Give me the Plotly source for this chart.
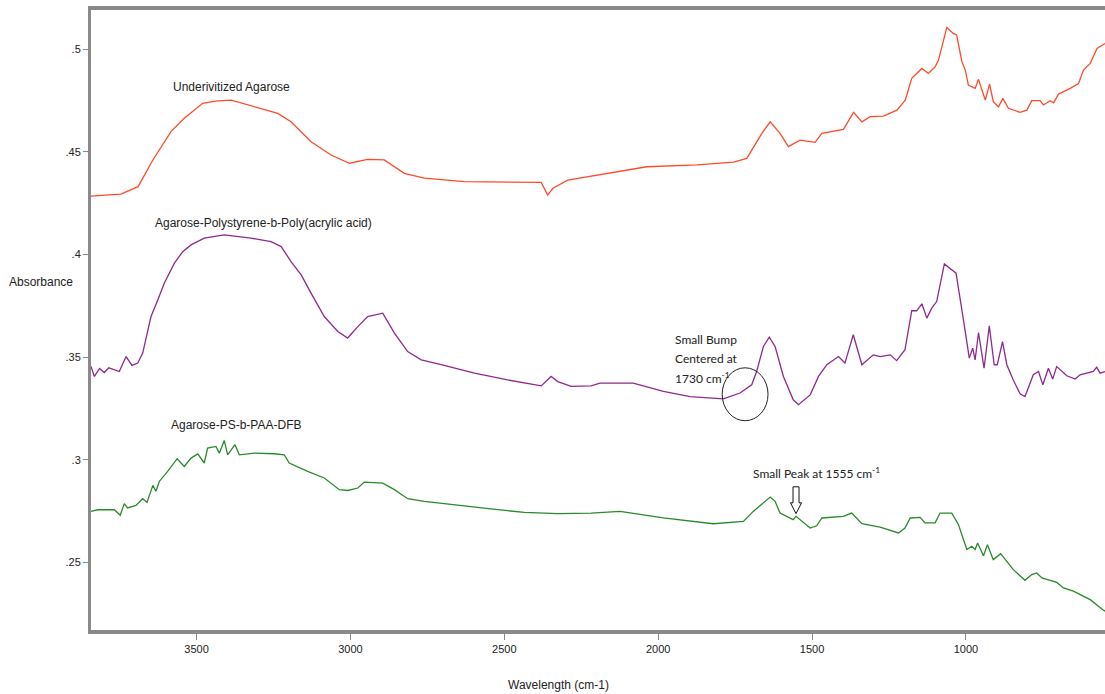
import plotly.graph_objects as go

# ---- Data (wavenumber cm-1, absorbance) ----
agarose_wn = [3843, 3800, 3746, 3690, 3642, 3583, 3540, 3480, 3440, 3388, 3334, 3290, 3236, 3193, 3128, 3063, 3003,
              2944, 2890, 2825, 2760, 2630, 2380, 2359, 2342, 2294, 2218, 2037, 1874, 1755, 1712,
              1663, 1636, 1604, 1577, 1539, 1490, 1468, 1398, 1365, 1338, 1311, 1268, 1224, 1197,
              1176, 1165, 1143, 1122, 1100, 1089, 1062, 1041, 1030, 1013, 1002, 992, 970, 959,
              937, 923, 911, 894, 880, 862, 824, 802, 786, 759, 748, 726, 715, 699, 661, 634,
              618, 596, 574, 548]
agarose_abs = [.4285, .4288, .4295, .4331, .4461, .4599, .4664, .4737, .4748, .4753, .4729, .4712, .4688, .4647, .4550, .4485, .4445,
               .4464, .4461, .4396, .4372, .4355, .4352, .4290, .4323, .4363, .4383, .4428, .4437, .4450, .4469,
               .4591, .4647, .4591, .4526, .4558, .4547, .4591, .4610, .4693, .4647, .4672, .4675, .4704, .4753,
               .4859, .4875, .4907, .4883, .4915, .4948, .5107, .5078, .5070, .4940, .4899, .4826, .4810, .4854,
               .4753, .4831, .4745, .4720, .4761, .4713, .4693, .4704, .4750, .4750, .4729, .4750, .4740, .4782,
               .4810, .4834, .4899, .4932, .5005, .5029]

paa_wn = [3843, 3832, 3815, 3800, 3785, 3751, 3729, 3710, 3691, 3675, 3664, 3648, 3626, 3605, 3572, 3545, 3518, 3475,
          3410, 3323, 3258, 3225, 3193, 3160, 3128, 3085, 3041, 3009, 2976, 2944, 2895, 2857, 2814,
          2770, 2705, 2597, 2489, 2380, 2348, 2326, 2283, 2218, 2189, 2081, 1983, 1896, 1788, 1734,
          1696, 1680, 1658, 1639, 1620, 1593, 1561, 1544, 1506, 1479, 1452, 1414, 1393, 1366, 1338,
          1301, 1279, 1246, 1225, 1198, 1176, 1160, 1143, 1127, 1111, 1095, 1070, 1046, 1032, 1008,
          989, 978, 970, 959, 941, 924, 908, 898, 881, 867, 846, 824, 808, 781, 764, 750, 732, 718,
          705, 672, 645, 629, 586, 575, 564, 548]
paa_abs = [.3454, .3406, .3445, .3425, .3448, .3430, .3503, .3460, .3471, .3520, .3593, .3698, .3779, .3860, .3958, .4014, .4047, .4080,
           .4096, .4080, .4063, .4039, .3966, .3901, .3812, .3698, .3625, .3593, .3649, .3698, .3714, .3617, .3527,
           .3487, .3463, .3422, .3389, .3360, .3406, .3381, .3357, .3360, .3373, .3373, .3333, .3308, .3297, .3325,
           .3365, .3430, .3552, .3597, .3552, .3406, .3292, .3268, .3316, .3406, .3463, .3503, .3471, .3609, .3463,
           .3511, .3503, .3511, .3483, .3536, .3727, .3726, .3760, .3690, .3739, .3771, .3954, .3925, .3909, .3682,
           .3495, .3544, .3487, .3620, .3446, .3652, .3463, .3463, .3576, .3463, .3389, .3321, .3308, .3414, .3430, .3365, .3446, .3393,
           .3454, .3409, .3393, .3414, .3430, .3451, .3422, .3430]

dfb_wn = [3843, 3821, 3767, 3748, 3735, 3724, 3697, 3675, 3661, 3642, 3632, 3621, 3594, 3563, 3540,
          3518, 3496, 3475, 3464, 3437, 3426, 3410, 3399, 3375, 3361, 3312, 3247, 3215, 3199, 3139,
          3085, 3036, 3009, 2976, 2955, 2895, 2857, 2814, 2760, 2651, 2544, 2435, 2326, 2218, 2124,
          1983, 1821, 1723, 1691, 1636, 1620, 1604, 1561, 1552, 1506, 1485, 1468, 1398, 1371, 1338,
          1279, 1219, 1198, 1181, 1149, 1133, 1100, 1084, 1046, 1024, 997, 981, 970, 962, 943, 930,
          911, 887, 846, 808, 786, 770, 753, 705, 683, 651, 596, 555, 548]
dfb_abs = [.2748, .2756, .2756, .2729, .2786, .2765, .2777, .2810, .2792, .2875, .2846, .2894, .2943, .3005, .2967,
           .3008, .3028, .2984, .3057, .3065, .3032, .3094, .3024, .3073, .3024, .3032, .3029, .3024, .2984, .2943,
           .2911, .2854, .2850, .2862, .2891, .2886, .2854, .2810, .2797, .2777, .2760, .2743, .2737, .2740, .2748,
           .2716, .2688, .2699, .2748, .2818, .2797, .2740, .2708, .2724, .2667, .2678, .2716, .2724, .2740, .2688,
           .2672, .2643, .2667, .2716, .2719, .2692, .2692, .2740, .2740, .2683, .2562, .2578, .2562, .2594, .2532, .2586,
           .2513, .2542, .2464, .2412, .2440, .2448, .2424, .2402, .2375, .2359, .2318, .2269, .2262]

series_names = ["Underivitized Agarose", "Agarose-Polystyrene-b-Poly(acrylic acid)", "Agarose-PS-b-PAA-DFB"]
y_tick_vals = [.25, .3, .35, .4, .45, .5]
y_tick_text = [".25", ".3", ".35", ".4", ".45", ".5"]
x_tick_vals = [3500, 3000, 2500, 2000, 1500, 1000]

FONT = "Liberation Sans, Arial, sans-serif"
CAL = "Lato, Open Sans, sans-serif"
TXT = "#222222"

fig = go.Figure()
for wn, ab, name, col in [(agarose_wn, agarose_abs, series_names[0], "#FF4A2A"),
                          (paa_wn, paa_abs, series_names[1], "#8E2A8E"),
                          (dfb_wn, dfb_abs, series_names[2], "#2A8A2A")]:
    fig.add_trace(go.Scatter(x=wn, y=ab, mode="lines", name=name,
                             line=dict(color=col, width=1.3), showlegend=False))

# curve labels
fig.add_annotation(x=3385, y=.4816, text=series_names[0], showarrow=False,
                   font=dict(family=FONT, size=12, color=TXT))
fig.add_annotation(x=3282, y=.4153, text=series_names[1], showarrow=False,
                   font=dict(family=FONT, size=12, color=TXT))
fig.add_annotation(x=3372, y=.3170, text=series_names[2], showarrow=False,
                   font=dict(family=FONT, size=12, color=TXT))

# callouts: "Small Bump" (three lines), circle
for txt, yy in [("Small Bump", .3588), ("Centered at", .3495), ("1730 cm<sup>-1</sup>", .3398)]:
    fig.add_annotation(x=1951, y=yy, xanchor="left", yanchor="middle", align="left",
                       text=txt, showarrow=False, font=dict(family=CAL, size=12, color=TXT))
fig.add_shape(type="circle", xref="x", yref="y", x0=1792, x1=1643, y0=.3190, y1=.3448,
              line=dict(color="#222222", width=1))

# "Small Peak" callout with hollow down arrow
fig.add_annotation(x=1487, y=.2935, text="Small Peak at 1555 cm<sup>-1</sup>", showarrow=False,
                   font=dict(family=CAL, size=12, color=TXT))
ax, hw, sw = 1552, 18, 9.75
fig.add_shape(type="path", xref="x", yref="y",
              path=f"M {ax-sw} .2868 L {ax+sw} .2868 L {ax+sw} .2790 L {ax+hw} .2790 L {ax} .2737 "
                   f"L {ax-hw} .2790 L {ax-sw} .2790 Z",
              line=dict(color="#111111", width=1), fillcolor="white")

# axis titles
fig.add_annotation(xref="paper", yref="paper", x=-0.0493, y=0.5613, xanchor="center", yanchor="middle",
                   text="Absorbance", showarrow=False, font=dict(family=FONT, size=12, color=TXT))
fig.add_annotation(xref="paper", yref="paper", x=0.4615, y=-0.0887, xanchor="center", yanchor="middle",
                   text="Wavelength (cm-1)", showarrow=False, font=dict(family=FONT, size=12, color=TXT))

fig.update_layout(
    width=1105, height=694,
    margin=dict(l=91, r=0, t=10, b=64),
    paper_bgcolor="white", plot_bgcolor="white",
    font=dict(family=FONT, size=11, color=TXT),
    xaxis=dict(range=[3843, 548], tickvals=x_tick_vals, ticks="outside", ticklen=6,
               tickcolor="#888888", showgrid=False, zeroline=False, showline=True,
               linecolor="#8a8a8a", linewidth=4, mirror=True,
               tickfont=dict(family=FONT, size=11, color=TXT)),
    yaxis=dict(range=[.217, .5192], tickvals=y_tick_vals, ticktext=y_tick_text, ticks="outside",
               ticklen=5, tickcolor="#888888", showgrid=False, zeroline=False, showline=True,
               linecolor="#8a8a8a", linewidth=3, mirror=False,
               tickfont=dict(family=FONT, size=11, color=TXT)),
)

# remove the page's default body margin so the 1105x694 figure fills the window exactly
fig.write_html("out.html", config={"displayModeBar": False},
               post_script="document.body.style.margin='0px';document.body.style.overflow='hidden';")
